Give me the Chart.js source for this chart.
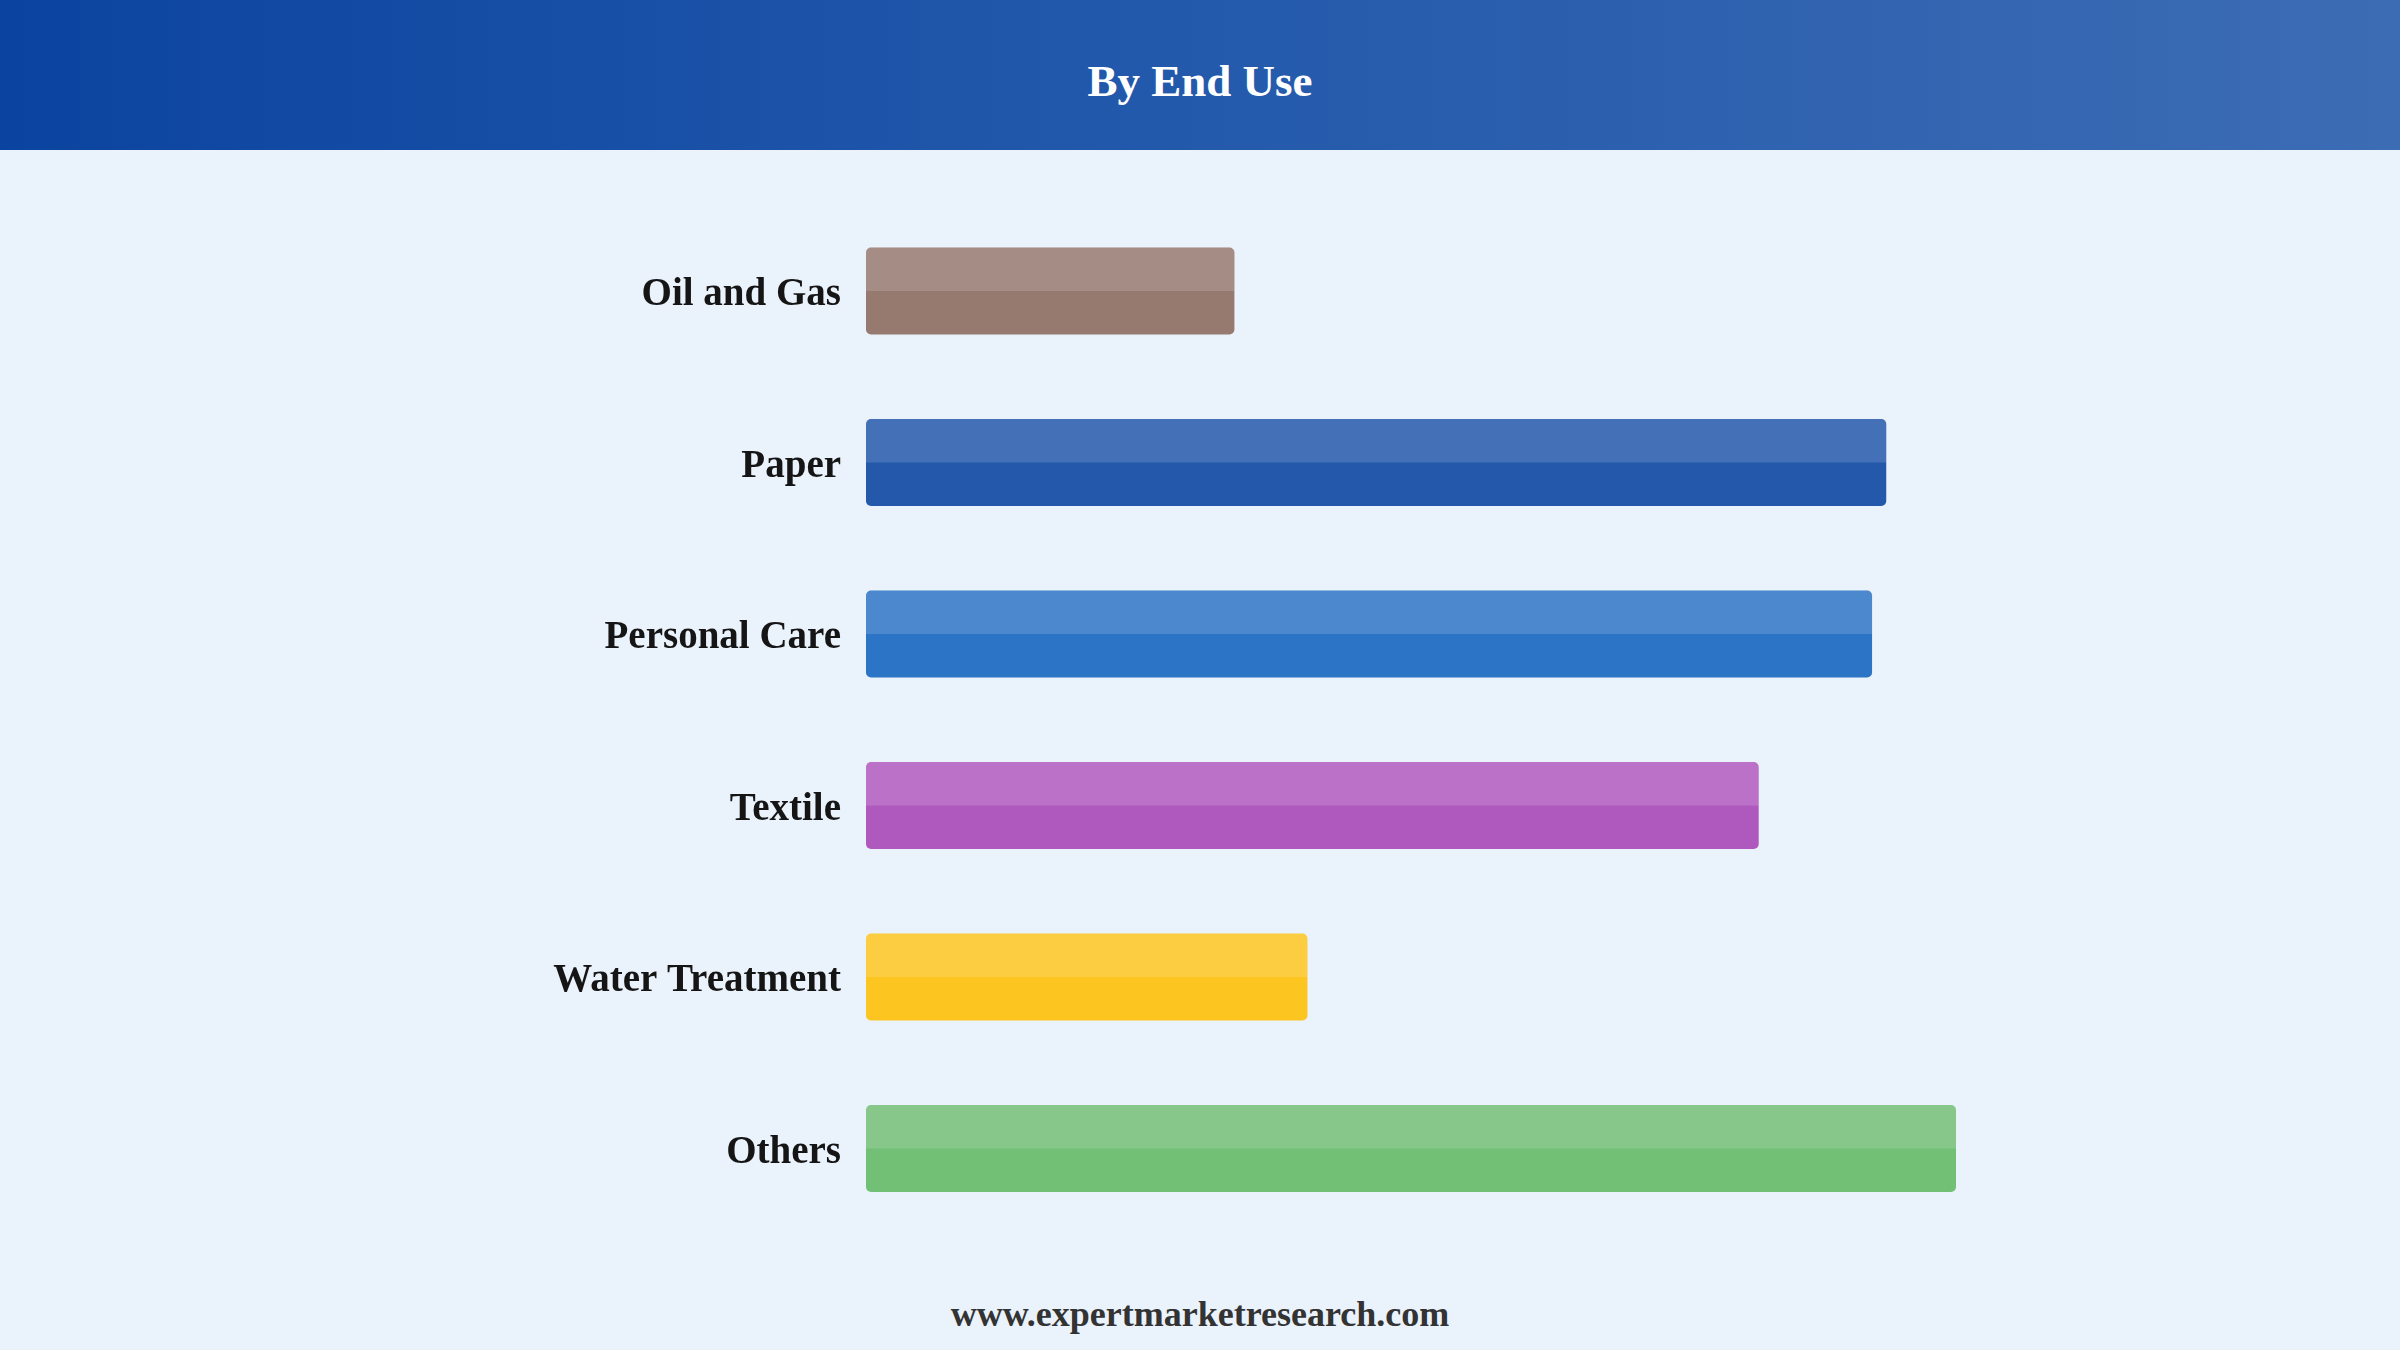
<!DOCTYPE html>
<html>
<head>
<meta charset="utf-8">
<script src="https://cdn.jsdelivr.net/npm/chart.js@4"></script>
<style>
  html, body { margin: 0; padding: 0; width: 2400px; height: 1350px; overflow: hidden; background: #EAF2FB; }
  #header { position: absolute; left: 0; top: 0; width: 2400px; height: 150px;
    background: linear-gradient(to right, #0B44A0 0%, #1F56AA 40%, #3C6CB4 100%); }
  #title { position: absolute; left: 0; top: 59px; width: 2400px; text-align: center;
    font-family: "Liberation Serif", "Times New Roman", serif; font-weight: bold; font-size: 45px;
    line-height: 45px; color: #ffffff; }
  #wrap { position: absolute; left: 0; top: 150px; width: 2400px; height: 1100px; }
  #footer { position: absolute; left: 0; top: 1296px; width: 2400px; text-align: center;
    font-family: "Liberation Serif", "Times New Roman", serif; font-weight: bold; font-size: 36px;
    line-height: 36px; color: #333333; }
</style>
</head>
<body>
<div id="header"><div id="title">By End Use</div></div>
<div id="wrap"><canvas id="c"></canvas></div>
<div id="footer">www.expertmarketresearch.com</div>
<script>
const categories = ["Oil and Gas", "Paper", "Personal Care", "Textile", "Water Treatment", "Others"];
const values = [33.8, 93.6, 92.3, 81.9, 40.5, 100];
const barColors = ["#967A70", "#2358AA", "#2C74C5", "#AF59BE", "#FCC520", "#72BF76"];

const highlight = {
  id: 'highlight',
  afterDatasetsDraw(chart) {
    const ctx = chart.ctx;
    const meta = chart.getDatasetMeta(0);
    ctx.save();
    meta.data.forEach(bar => {
      const p = bar.getProps(['x', 'y', 'base', 'height'], true);
      const left = Math.min(p.base, p.x), right = Math.max(p.base, p.x);
      const top = p.y - p.height / 2, h = p.height / 2;
      const r = 5;
      ctx.beginPath();
      ctx.moveTo(left + r, top);
      ctx.lineTo(right - r, top);
      ctx.quadraticCurveTo(right, top, right, top + r);
      ctx.lineTo(right, top + h);
      ctx.lineTo(left, top + h);
      ctx.lineTo(left, top + r);
      ctx.quadraticCurveTo(left, top, left + r, top);
      ctx.closePath();
      ctx.fillStyle = 'rgba(255,255,255,0.15)';
      ctx.fill();
    });
    ctx.restore();
  }
};

new Chart(document.getElementById('c'), {
  type: 'bar',
  data: {
    labels: categories,
    datasets: [{
      data: values,
      backgroundColor: barColors,
      borderRadius: 5,
      borderSkipped: false,
      categoryPercentage: 1,
      barPercentage: 0.507
    }]
  },
  plugins: [highlight],
  options: {
    indexAxis: 'y',
    responsive: true,
    maintainAspectRatio: false,
    animation: false,
    devicePixelRatio: 1,
    layout: { padding: { top: 55.25, bottom: 15.75, left: 0, right: 226 } },
    plugins: { legend: { display: false }, tooltip: { enabled: false } },
    scales: {
      x: { display: false, min: 0, max: 120 },
      y: {
        grid: { display: false, drawTicks: false },
        border: { display: false },
        ticks: {
          padding: 25,
          labelOffset: 4,
          color: '#151515',
          font: { family: '"Liberation Serif", "Times New Roman", serif', weight: 'bold', size: 39 }
        },
        afterFit(scale) {
          scale.width = 866;
          scale.paddingTop = 0;
          scale.paddingBottom = 0;
        }
      }
    }
  }
});
</script>
</body>
</html>
